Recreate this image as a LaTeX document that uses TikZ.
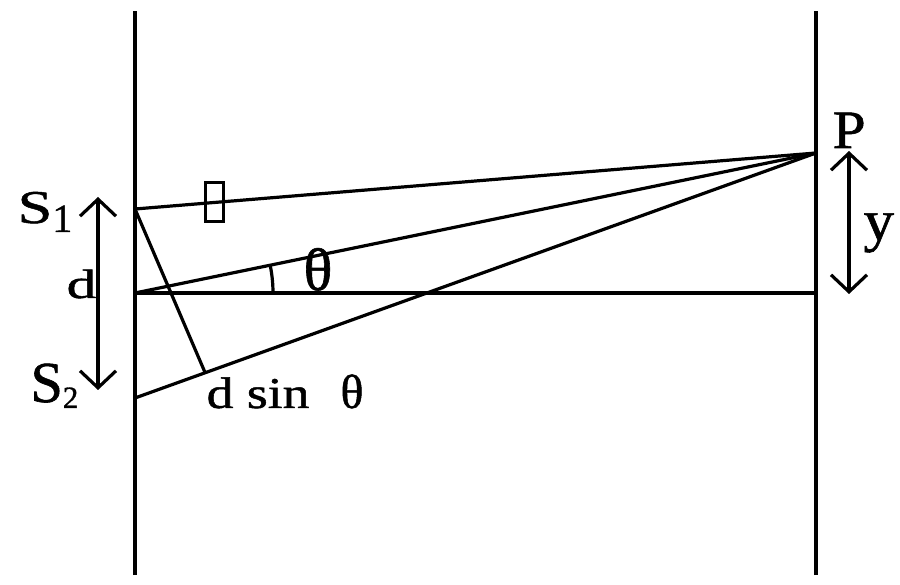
\documentclass[tikz,border=0pt]{standalone}
\usepackage{fontspec}
\setmainfont{Liberation Serif}[RawFeature={embolden=1}]
\usetikzlibrary{calc,arrows.meta}
\newcommand{\wtxt}[2][1.3]{\scalebox{#1}[1]{#2}}

\begin{document}
\begin{tikzpicture}[x=1pt,y=1pt,line width=3.2pt,
	lbl/.style={inner sep=0pt,anchor=base west,font=\fontsize{#1}{#1}\selectfont},
	dbl/.style={{Straight Barb[length=17pt,width=36pt]}-{Straight Barb[length=17pt,width=36pt]}}]
\useasboundingbox (0,0) rectangle (900,584);

\coordinate (S1) at (135,375);
\coordinate (O) at (135,291);
\coordinate (S2) at (135,186);
\coordinate (P) at (816,431);
\coordinate (E) at (816,291);
\coordinate (F) at ($(S2)!0.103!(P)$);

%screens
\draw (135,9)--(135,573);
\draw (816,9)--(816,573);

%rays
\draw (S1)--(P);
\draw (O)--(P);
\draw (S2)--(P);
\draw (O)--(E);
\draw (S1)--(F);

%slab on upper ray
\node[draw,line width=3pt,minimum width=18pt,minimum height=39pt,inner sep=0pt] (slab) at (214,382) {};

%theta
\draw let \p1=($(P)-(O)$), \n1={atan2(\y1,\x1)} in ($(O)+(138,0)$) arc[start angle=0,end angle=\n1,radius=138];
\node[lbl=60] (th) at (302,294) {θ};

%d and y
\coordinate (dT) at (98,387);
\coordinate (dB) at (98,194);
\draw [dbl](dB)--(dT);
\coordinate (yT) at (849,433);
\coordinate (yB) at (849,290);
\draw [dbl](yB)--(yT);

\node[lbl=47] (s1) at (16,361) {\wtxt[1.33]{S}\raisebox{-9pt}{\fontsize{40}{40}\selectfont 1}};
\node[lbl=58] (s2) at (29,182) {S\raisebox{-6pt}{\fontsize{31}{31}\selectfont 2}};
\node[lbl=41] (d) at (65,286) {\wtxt[1.45]{d}};
\node[lbl=44] (dsin) at (205,176) {\wtxt[1.22]{d sin}\hspace{31pt}{\fontsize{48}{48}\selectfont θ}};
\node[lbl=54] (p) at (831,436) {\wtxt[1.1]{P}};
\node[lbl=58] (y) at (862,344) {\wtxt[1.05]{y}};
\end{tikzpicture}
\end{document}
